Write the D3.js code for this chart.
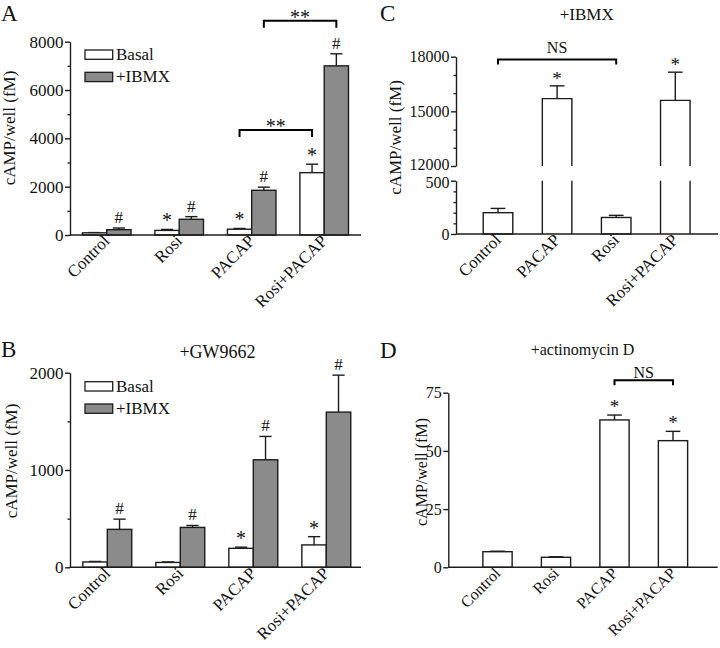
<!DOCTYPE html>
<html><head><meta charset="utf-8">
<script src="https://cdn.jsdelivr.net/npm/d3@7"></script>
<style>
body{margin:0;background:#fff}
svg{display:block}
text{font-family:"Liberation Serif","Times New Roman",serif;fill:#111}
</style>
</head><body>
<svg id="chart" width="720" height="648"></svg>
<script>
// ---------- DATA ----------
const seriesNames = ["Basal", "+IBMX"];
const catsAB = ["Control", "Rosi", "PACAP", "Rosi+PACAP"];

// Panel A
const aBasal    = [90, 190, 240, 2580];
const aBasalErr = [10, 40, 30, 350];
const aIbmx     = [220, 650, 1850, 7000];
const aIbmxErr  = [70, 110, 130, 500];
const aBasalMarks = ["", "*", "*", "*"];
const aIbmxMarks  = ["#", "#", "#", "#"];
const aTicks = [0, 2000, 4000, 6000, 8000];
const aMinor = [1000, 3000, 5000, 7000];
const aBrackets = [
  {from: "PACAP", to: "Rosi+PACAP", series: "Basal", level: 4350, label: "**"},
  {from: "PACAP", to: "Rosi+PACAP", series: "+IBMX", level: 8870, label: "**"}
];

// Panel B (+GW9662)
const bBasal    = [55, 50, 195, 230];
const bBasalErr = [5, 5, 12, 85];
const bIbmx     = [390, 410, 1105, 1595];
const bIbmxErr  = [105, 20, 240, 380];
const bBasalMarks = ["", "", "*", "*"];
const bIbmxMarks  = ["#", "#", "#", "#"];
const bTicks = [0, 1000, 2000];
const bMinor = [500, 1500];

// Panel C (+IBMX), broken axis
const catsC = ["Control", "PACAP", "Rosi", "Rosi+PACAP"];
const cVals = [200, 15700, 155, 15600];
const cErr  = [40, 700, 20, 1550];
const cMarks = ["", "*", "", "*"];
const cLowTicks = [0, 500];
const cLowMinor = [100, 200, 300, 400];
const cHighTicks = [12000, 15000, 18000];
const cHighMinor = [13000, 14000, 16000, 17000];
const cBracket = {from: "Control", to: "Rosi", level: 17850, label: "NS"};

// Panel D (+actinomycin D)
const catsD = ["Control", "Rosi", "PACAP", "Rosi+PACAP"];
const dVals = [6.7, 4.3, 63.3, 54.4];
const dErr  = [0.2, 0.2, 2.1, 4.0];
const dMarks = ["", "", "*", "*"];
const dTicks = [0, 25, 50, 75];
const dBracket = {from: "PACAP", to: "Rosi+PACAP", level: 80.4, label: "NS"};

// ---------- DRAWING ----------
const svg = d3.select("#chart");
const INK = "#1c1c1c", GRAY = "#8b8b8b";
const FONT = '"Liberation Serif","Times New Roman",serif';

function styleAxis(a, fs) {
  a.attr("font-family", FONT).attr("font-size", fs);
  a.select(".domain").attr("stroke", INK).attr("stroke-width", 1.4);
  a.selectAll(".tick line").attr("stroke", INK).attr("stroke-width", 1.4);
  a.selectAll(".tick text").attr("fill", "#111");
}
function yAxis(x, scale, major, minor, fs) {
  const a = svg.append("g").attr("transform", `translate(${x},0)`)
    .call(d3.axisLeft(scale).tickValues(major).tickSize(5).tickSizeOuter(0).tickPadding(1.5).tickFormat(d3.format("d")));
  styleAxis(a, fs);
  if (minor && minor.length) {
    const m = svg.append("g").attr("transform", `translate(${x},0)`)
      .call(d3.axisLeft(scale).tickValues(minor).tickSize(2.5).tickFormat(""));
    m.select(".domain").remove();
    m.selectAll(".tick line").attr("stroke", INK).attr("stroke-width", 1.3);
  }
  return a;
}
function xLine(x1, x2, y) {
  svg.append("line").attr("x1", x1).attr("x2", x2).attr("y1", y).attr("y2", y)
    .attr("stroke", INK).attr("stroke-width", 1.4);
}
function catLabels(cats, x, y0, fs) {
  svg.append("g").selectAll("text").data(cats).join("text")
    .attr("transform", d => `translate(${x(d) + x.bandwidth()/2 + 4},${y0 + 7}) rotate(-45)`)
    .attr("text-anchor", "end").attr("font-size", fs).text(d => d);
}
function yLabel(x, yc, fs) {
  svg.append("text").attr("transform", `translate(${x},${yc}) rotate(-90)`)
    .attr("text-anchor", "middle").attr("font-size", fs).text("cAMP/well (fM)");
}
function errBar(cx, yTop, yErr, w) {
  svg.append("line").attr("x1", cx).attr("x2", cx).attr("y1", yTop).attr("y2", yErr)
    .attr("stroke", INK).attr("stroke-width", 1.4);
  svg.append("line").attr("x1", cx - w/2).attr("x2", cx + w/2).attr("y1", yErr).attr("y2", yErr)
    .attr("stroke", INK).attr("stroke-width", 1.4);
}
function mark(cx, y, s, fs) {
  if (!s) return;
  svg.append("text").attr("x", cx).attr("y", s === "*" ? y + 3 : y).attr("text-anchor", "middle")
    .attr("font-size", s === "*" ? fs + 3 : fs).text(s);
}
function bracket(x1, x2, y, drop, label, fs, gap) {
  svg.append("path").attr("d", `M${x1},${y + drop}V${y}H${x2}V${y + drop}`)
    .attr("fill", "none").attr("stroke", "#000").attr("stroke-width", 2);
  svg.append("text").attr("x", (x1 + x2)/2).attr("y", y - gap).attr("text-anchor", "middle")
    .attr("font-size", fs).text(label);
}
function letter(x, y, s) {
  svg.append("text").attr("x", x).attr("y", y).attr("font-size", 23).text(s);
}
function legend(x, y) {
  [["#fff", seriesNames[0]], [GRAY, seriesNames[1]]].forEach(([f, n], i) => {
    const yy = y + i * 22.3;
    svg.append("rect").attr("x", x).attr("y", yy).attr("width", 27.7).attr("height", 9.3)
      .attr("fill", f).attr("stroke", INK).attr("stroke-width", 1.3);
    svg.append("text").attr("x", x + 31).attr("y", yy + 10).attr("font-size", 17).text(n);
  });
}

function groupedPanel(o) {
  const x = d3.scaleBand().domain(catsAB).range(o.xr).paddingInner(0.33).paddingOuter(0.165);
  const xs = d3.scaleBand().domain(seriesNames).range([0, x.bandwidth()]);
  const y = d3.scaleLinear().domain([0, o.ticks[o.ticks.length - 1]]).range([o.y0, o.y1]);
  const sets = [
    {name: seriesNames[0], vals: o.basal, err: o.basalErr, marks: o.basalMarks, fill: "#fff"},
    {name: seriesNames[1], vals: o.ibmx, err: o.ibmxErr, marks: o.ibmxMarks, fill: GRAY}
  ];
  sets.forEach(s => {
    catsAB.forEach((c, i) => {
      const bx = x(c) + xs(s.name), bw = xs.bandwidth(), cx = bx + bw/2;
      errBar(cx, y(s.vals[i]), y(s.vals[i] + s.err[i]), bw * 0.5);
      svg.append("rect").attr("x", bx).attr("y", y(s.vals[i])).attr("width", bw)
        .attr("height", y(0) - y(s.vals[i])).attr("fill", s.fill)
        .attr("stroke", INK).attr("stroke-width", 1.4);
      mark(cx, y(s.vals[i] + s.err[i]) - 5, s.marks[i], 17);
    });
  });
  yAxis(o.axisX, y, o.ticks, o.minor, 17);
  xLine(o.axisX, o.xEnd, o.y0);
  catLabels(catsAB, x, o.y0, 17);
  return {x, xs, y};
}

// ----- Panel A -----
letter(1, 20.5, "A");
const A = groupedPanel({xr: [70.45, 360.45], y0: 235, y1: 41.7, axisX: 70, xEnd: 361,
  basal: aBasal, basalErr: aBasalErr, ibmx: aIbmx, ibmxErr: aIbmxErr,
  basalMarks: aBasalMarks, ibmxMarks: aIbmxMarks, ticks: aTicks, minor: aMinor});
aBrackets.forEach(b => {
  const c1 = A.x(b.from) + A.xs(b.series) + A.xs.bandwidth()/2;
  const c2 = A.x(b.to) + A.xs(b.series) + A.xs.bandwidth()/2;
  bracket(c1, c2, A.y(b.level), 7, b.label, 20, -3);
});
legend(85, 50);
yLabel(15, 128, 17);

// ----- Panel B -----
letter(1, 357, "B");
svg.append("text").attr("x", 217.5).attr("y", 358).attr("text-anchor", "middle").attr("font-size", 18).text("+GW9662");
groupedPanel({xr: [70.8, 362.8], y0: 567.3, y1: 372.7, axisX: 70, xEnd: 361,
  basal: bBasal, basalErr: bBasalErr, ibmx: bIbmx, ibmxErr: bIbmxErr,
  basalMarks: bBasalMarks, ibmxMarks: bIbmxMarks, ticks: bTicks, minor: bMinor});
legend(85, 381.7);
yLabel(16.5, 461, 17);

// ----- Panel C -----
letter(380, 20.5, "C");
svg.append("text").attr("x", 586.7).attr("y", 20).attr("text-anchor", "middle").attr("font-size", 17).text("+IBMX");
{
  const x = d3.scaleBand().domain(catsC).range([468.45, 704.85]).paddingInner(0.5).paddingOuter(0.25);
  const yL = d3.scaleLinear().domain([0, 500]).range([234, 180.7]);
  const yH = d3.scaleLinear().domain([12000, 18000]).range([166, 56.7]);
  const bw = x.bandwidth();
  catsC.forEach((c, i) => {
    const v = cVals[i], bx = x(c), cx = bx + bw/2;
    if (v <= 500) {
      errBar(cx, yL(v), yL(v + cErr[i]), bw * 0.5);
      svg.append("rect").attr("x", bx).attr("y", yL(v)).attr("width", bw).attr("height", yL(0) - yL(v))
        .attr("fill", "#fff").attr("stroke", INK).attr("stroke-width", 1.4);
      mark(cx, yL(v + cErr[i]) - 4, cMarks[i], 16);
    } else {
      errBar(cx, yH(v), yH(v + cErr[i]), bw * 0.5);
      svg.append("path").attr("d", `M${bx},${yL(0)}V${yL(500)}M${bx + bw},${yL(0)}V${yL(500)}`)
        .attr("fill", "none").attr("stroke", INK).attr("stroke-width", 1.4);
      svg.append("path").attr("d", `M${bx},${yH(12000)}V${yH(v)}H${bx + bw}V${yH(12000)}`)
        .attr("fill", "#fff").attr("stroke", INK).attr("stroke-width", 1.4);
      mark(cx, yH(v + cErr[i]) - 4, cMarks[i], 16);
    }
  });
  const aL = yAxis(456, yL, cLowTicks, cLowMinor, 16);
  const aH = yAxis(456, yH, cHighTicks, cHighMinor, 16);
  // nudge the two adjacent break labels apart slightly, as in the figure
  aH.selectAll(".tick text").filter(d => d === 12000).attr("dy", "0.22em");
  aL.selectAll(".tick text").filter(d => d === 500).attr("dy", "0.42em");
  xLine(456, 718, 234);
  catLabels(catsC, x, 234, 17);
  bracket(x(cBracket.from) + bw/2, x(cBracket.to) + bw/2, yH(cBracket.level), 5, cBracket.label, 16, 6);
  yLabel(400.5, 137.5, 17);
}

// ----- Panel D -----
letter(380, 358, "D");
svg.append("text").attr("x", 582.5).attr("y", 355).attr("text-anchor", "middle").attr("font-size", 16).text("+actinomycin D");
{
  const x = d3.scaleBand().domain(catsD).range([468.25, 702.25]).paddingInner(0.5).paddingOuter(0.25);
  const y = d3.scaleLinear().domain([0, 75]).range([567.3, 392.7]);
  const bw = x.bandwidth();
  catsD.forEach((c, i) => {
    const v = dVals[i], bx = x(c), cx = bx + bw/2;
    errBar(cx, y(v), y(v + dErr[i]), bw * 0.5);
    svg.append("rect").attr("x", bx).attr("y", y(v)).attr("width", bw).attr("height", y(0) - y(v))
      .attr("fill", "#fff").attr("stroke", INK).attr("stroke-width", 1.4);
    mark(cx, y(v + dErr[i]) - 5, dMarks[i], 16);
  });
  yAxis(448.3, y, dTicks, [], 16);
  xLine(448.3, 717.7, 567.3);
  catLabels(catsD, x, 567.3, 16);
  bracket(x(dBracket.from) + bw/2, x(dBracket.to) + bw/2, y(dBracket.level), 5, dBracket.label, 16, 2);
  yLabel(426.5, 472, 16);
}
</script>
</body></html>
